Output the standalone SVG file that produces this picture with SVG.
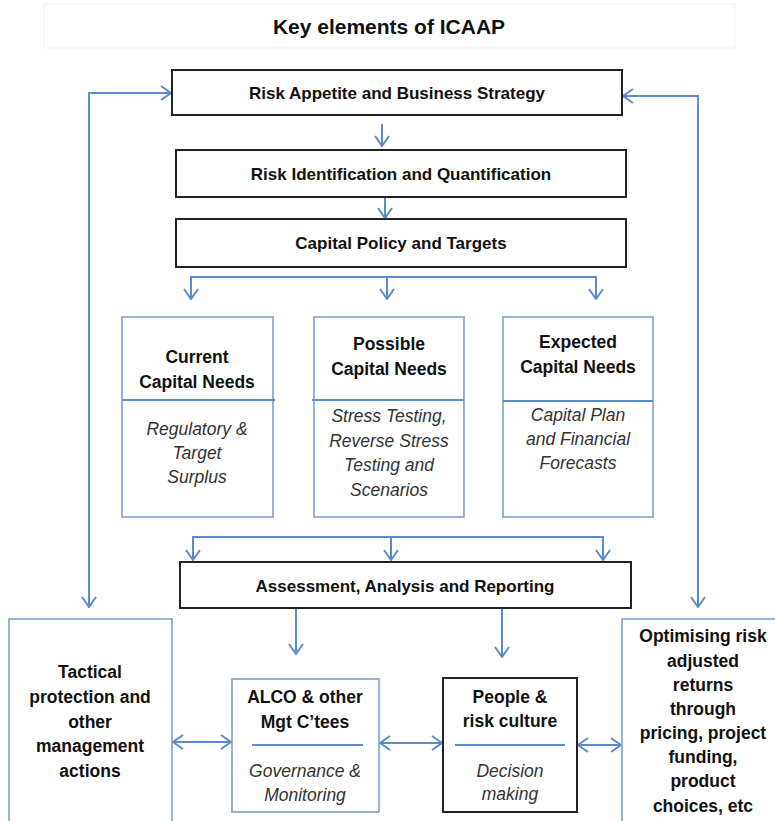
<svg xmlns="http://www.w3.org/2000/svg" width="775" height="821" viewBox="0 0 775 821">
<style>
.b{font-family:"Liberation Sans",Arial,sans-serif;font-weight:bold;fill:#111;text-anchor:middle}
.i{font-family:"Liberation Sans",Arial,sans-serif;font-style:italic;fill:#333;text-anchor:middle;font-size:17.5px}
.h{font-size:17px}
.c{font-size:17.5px}
.bx{fill:#fff;stroke:#222;stroke-width:2}
.bb{fill:#fff;stroke:#7f9fcf;stroke-width:1.6}
.ln{fill:none;stroke:#5b8bcd;stroke-width:2}
.dv{stroke:#5b8bcd;stroke-width:2}
</style>
<defs>
<marker id="ah" viewBox="0 0 12 16" refX="11" refY="8" markerWidth="12" markerHeight="16" markerUnits="userSpaceOnUse" orient="auto-start-reverse">
<path d="M1,1 L11,8 L1,15" fill="none" stroke="#5b8bcd" stroke-width="2"/>
</marker>
</defs>
<rect x="44" y="4" width="691" height="44" fill="#fff" stroke="#f2f2f2" stroke-width="1"/>
<text class="b" x="389" y="34" font-size="21">Key elements of ICAAP</text>

<g id="connectors">
<path class="ln" d="M89,607 L89,93 L171,93" marker-end="url(#ah)" marker-start="url(#ah)"/>
<path class="ln" d="M698,607 L698,96 L623,96" marker-end="url(#ah)" marker-start="url(#ah)"/>
<path class="ln" d="M382,124 L382,146" marker-end="url(#ah)"/>
<path class="ln" d="M385,198 L385,218" marker-end="url(#ah)"/>
<path class="ln" d="M191,299 L191,277 L596,277 L596,299" marker-end="url(#ah)" marker-start="url(#ah)"/>
<path class="ln" d="M387,277 L387,299" marker-end="url(#ah)"/>
<path class="ln" d="M193,560 L193,537 L603,537 L603,560" marker-end="url(#ah)" marker-start="url(#ah)"/>
<path class="ln" d="M391,537 L391,560" marker-end="url(#ah)"/>
<path class="ln" d="M296,609 L296,654" marker-end="url(#ah)"/>
<path class="ln" d="M502,609 L502,657" marker-end="url(#ah)"/>
<path class="ln" d="M173,742 L231,742" marker-end="url(#ah)" marker-start="url(#ah)"/>
<path class="ln" d="M380,743 L442,743" marker-end="url(#ah)" marker-start="url(#ah)"/>
<path class="ln" d="M578,745 L621,745" marker-end="url(#ah)" marker-start="url(#ah)"/>
</g>

<g id="risk-appetite">
<rect class="bx" x="172" y="70" width="450" height="45"/>
<text class="b h" x="397" y="99">Risk Appetite and Business Strategy</text>
</g>
<g id="risk-identification">
<rect class="bx" x="176" y="150" width="450" height="47"/>
<text class="b h" x="401" y="180">Risk Identification and Quantification</text>
</g>
<g id="capital-policy">
<rect class="bx" x="176" y="219" width="450" height="48"/>
<text class="b h" x="401" y="249">Capital Policy and Targets</text>
</g>

<g id="current-capital">
<rect class="bb" x="122" y="317" width="151" height="200"/>
<line class="dv" x1="122" y1="400" x2="275" y2="400"/>
<text class="b c" x="197" y="363">Current</text>
<text class="b c" x="197" y="388">Capital Needs</text>
<text class="i" x="197" y="435">Regulatory &amp;</text>
<text class="i" x="197" y="459">Target</text>
<text class="i" x="197" y="483">Surplus</text>
</g>
<g id="possible-capital">
<rect class="bb" x="314" y="317" width="150" height="200"/>
<line class="dv" x1="312" y1="400" x2="464" y2="400"/>
<text class="b c" x="389" y="350">Possible</text>
<text class="b c" x="389" y="375">Capital Needs</text>
<text class="i" x="389" y="422">Stress Testing,</text>
<text class="i" x="389" y="447">Reverse Stress</text>
<text class="i" x="389" y="471">Testing and</text>
<text class="i" x="389" y="496">Scenarios</text>
</g>
<g id="expected-capital">
<rect class="bb" x="503" y="317" width="150" height="200"/>
<line class="dv" x1="503" y1="401" x2="653" y2="401"/>
<text class="b c" x="578" y="348">Expected</text>
<text class="b c" x="578" y="373">Capital Needs</text>
<text class="i" x="578" y="421">Capital Plan</text>
<text class="i" x="578" y="445">and Financial</text>
<text class="i" x="578" y="469">Forecasts</text>
</g>

<g id="assessment">
<rect class="bx" x="180" y="562" width="451" height="46"/>
<text class="b h" x="405" y="592">Assessment, Analysis and Reporting</text>
</g>

<g id="tactical">
<rect class="bb" x="9" y="619" width="163" height="220"/>
<text class="b c" x="90" y="678">Tactical</text>
<text class="b c" x="90" y="703">protection and</text>
<text class="b c" x="90" y="728">other</text>
<text class="b c" x="90" y="752">management</text>
<text class="b c" x="90" y="777">actions</text>
</g>
<g id="alco">
<rect class="bb" x="232" y="679" width="147" height="133"/>
<text class="b c" x="305" y="703">ALCO &amp; other</text>
<text class="b c" x="305" y="728">Mgt C’tees</text>
<line class="dv" x1="252" y1="745" x2="363" y2="745"/>
<text class="i" x="305" y="777">Governance &amp;</text>
<text class="i" x="305" y="801">Monitoring</text>
</g>
<g id="people">
<rect class="bx" x="443" y="678" width="134" height="134"/>
<text class="b c" x="510" y="703">People &amp;</text>
<text class="b c" x="510" y="727">risk culture</text>
<line class="dv" x1="455" y1="745" x2="565" y2="745"/>
<text class="i" x="510" y="777">Decision</text>
<text class="i" x="510" y="800">making</text>
</g>
<g id="optimising">
<rect class="bb" x="622" y="619" width="170" height="220"/>
<text class="b c" x="703" y="642">Optimising risk</text>
<text class="b c" x="703" y="667">adjusted</text>
<text class="b c" x="703" y="691">returns</text>
<text class="b c" x="703" y="715">through</text>
<text class="b c" x="703" y="739">pricing, project</text>
<text class="b c" x="703" y="763">funding,</text>
<text class="b c" x="703" y="787">product</text>
<text class="b c" x="703" y="812">choices, etc</text>
</g>
</svg>
